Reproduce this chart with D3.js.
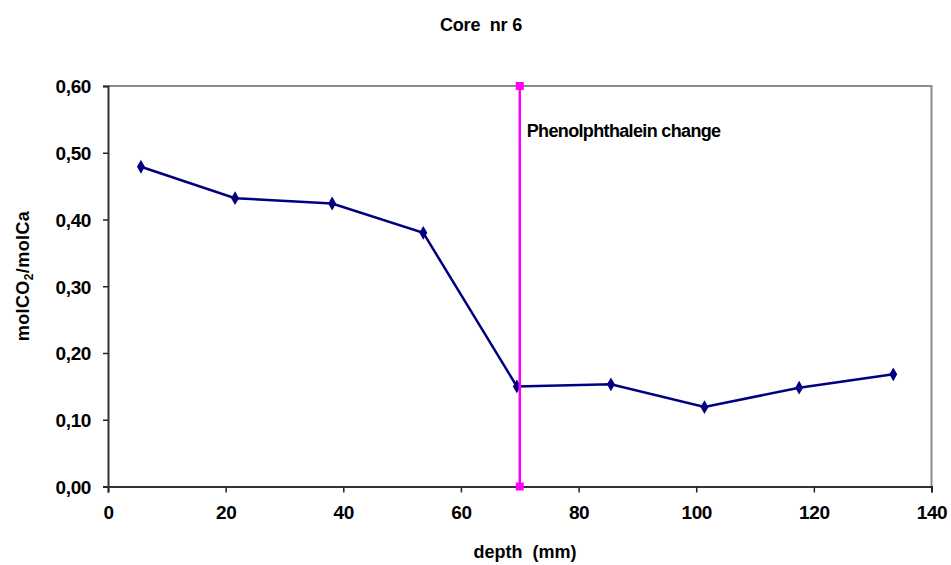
<!DOCTYPE html>
<html>
<head>
<meta charset="utf-8">
<script src="https://cdn.jsdelivr.net/npm/d3@7"></script>
<style>
  body { margin: 0; background: #fff; }
  text { font-family: "Liberation Sans", Arial, sans-serif; }
</style>
</head>
<body>
<div id="chart"></div>
<script>
var svgWidth = 951;
var svgHeight = 565;

var margin = { top: 86, right: 19, bottom: 78, left: 108 };
var width = 931.5 - margin.left;
var height = 486.5 - margin.top;

// data
var depth = [5.6, 21.6, 38.1, 53.6, 69.5, 85.5, 101.4, 117.5, 133.5];
var ratio = [0.479, 0.432, 0.424, 0.380, 0.150, 0.153, 0.119, 0.148, 0.168];
var markerDepth = [70, 70];
var markerRatio = [0, 0.6];
var xTicks = [0, 20, 40, 60, 80, 100, 120, 140];
var yTicks = [0, 0.1, 0.2, 0.3, 0.4, 0.5, 0.6];

var svg = d3.select("#chart")
  .append("svg")
  .attr("width", svgWidth)
  .attr("height", svgHeight);

var chartGroup = svg.append("g")
  .attr("transform", `translate(${margin.left}, ${margin.top})`);

var xScale = d3.scaleLinear().domain([0, 140]).range([0, width]);
var yScale = d3.scaleLinear().domain([0, 0.6]).range([height, 0]);

// top and right border of plot area
chartGroup.append("path")
  .attr("d", `M0,0H${width}V${height}`)
  .attr("fill", "none")
  .attr("stroke", "#8c8c8c")
  .attr("stroke-width", 2);

var bottomAxis = d3.axisBottom(xScale)
  .tickValues(xTicks)
  .tickSize(6)
  .tickFormat(d3.format("d"));

var leftAxis = d3.axisLeft(yScale)
  .tickValues(yTicks)
  .tickSize(5)
  .tickFormat(d => d3.format(".2f")(d).replace(".", ","));

var xAxisG = chartGroup.append("g")
  .attr("transform", `translate(0, ${height})`)
  .call(bottomAxis);

var yAxisG = chartGroup.append("g")
  .call(leftAxis);

[xAxisG, yAxisG].forEach(function(g) {
  g.select(".domain").attr("stroke", "#333").attr("stroke-width", 2);
  g.selectAll(".tick line").attr("stroke", "#222").attr("stroke-width", 1.5);
  g.selectAll(".tick text")
    .attr("fill", "#000")
    .attr("font-size", 19)
    .attr("font-weight", "bold")
    .attr("letter-spacing", "-0.4")
    .attr("font-family", "Liberation Sans, Arial, sans-serif");
});
xAxisG.selectAll(".tick text").attr("y", 32).attr("dy", 0);
yAxisG.selectAll(".tick text").attr("x", -17).attr("dy", "0.36em");

// data line
var pts = depth.map((d, i) => [d, ratio[i]]);
chartGroup.append("path")
  .datum(pts)
  .attr("fill", "none")
  .attr("stroke", "#000080")
  .attr("stroke-width", 2.5)
  .attr("d", d3.line().x(d => xScale(d[0])).y(d => yScale(d[1])));

chartGroup.selectAll("path.pt")
  .data(pts)
  .enter()
  .append("path")
  .attr("class", "pt")
  .attr("transform", d => `translate(${xScale(d[0])},${yScale(d[1])})`)
  .attr("d", d3.symbol(d3.symbolDiamond, 55))
  .attr("fill", "#000080");

// phenolphthalein marker line
var mk = markerDepth.map((d, i) => [d, markerRatio[i]]);
chartGroup.append("path")
  .datum(mk)
  .attr("fill", "none")
  .attr("stroke", "#ff00ff")
  .attr("stroke-width", 2.5)
  .attr("d", d3.line().x(d => xScale(d[0])).y(d => yScale(d[1])));

chartGroup.selectAll("rect.mk")
  .data(mk)
  .enter()
  .append("rect")
  .attr("class", "mk")
  .attr("x", d => xScale(d[0]) - 4)
  .attr("y", d => yScale(d[1]) - 4)
  .attr("width", 8)
  .attr("height", 8)
  .attr("fill", "#ff00ff");

chartGroup.append("text")
  .attr("x", xScale(70) + 7)
  .attr("y", 51)
  .attr("font-size", 18)
  .attr("font-weight", "bold")
  .attr("letter-spacing", "-0.65")
  .text("Phenolphthalein change");

// titles
svg.append("text")
  .attr("x", 481)
  .attr("y", 31)
  .attr("text-anchor", "middle")
  .attr("font-size", 18)
  .attr("font-weight", "bold")
  .attr("letter-spacing", "-0.2")
  .style("white-space", "pre")
  .text("Core  nr 6");

svg.append("text")
  .attr("x", 525)
  .attr("y", 558)
  .attr("text-anchor", "middle")
  .attr("font-size", 18)
  .attr("font-weight", "bold")
  .style("white-space", "pre")
  .text("depth  (mm)");

var yLabel = svg.append("text")
  .attr("transform", "translate(29, 276) rotate(-90)")
  .attr("text-anchor", "middle")
  .attr("font-size", 18)
  .attr("font-weight", "bold")
  .attr("letter-spacing", "0.4");
yLabel.append("tspan").text("molCO");
yLabel.append("tspan").attr("font-size", 12).attr("dy", 4).text("2");
yLabel.append("tspan").attr("dy", -4).text("/molCa");
</script>
</body>
</html>
